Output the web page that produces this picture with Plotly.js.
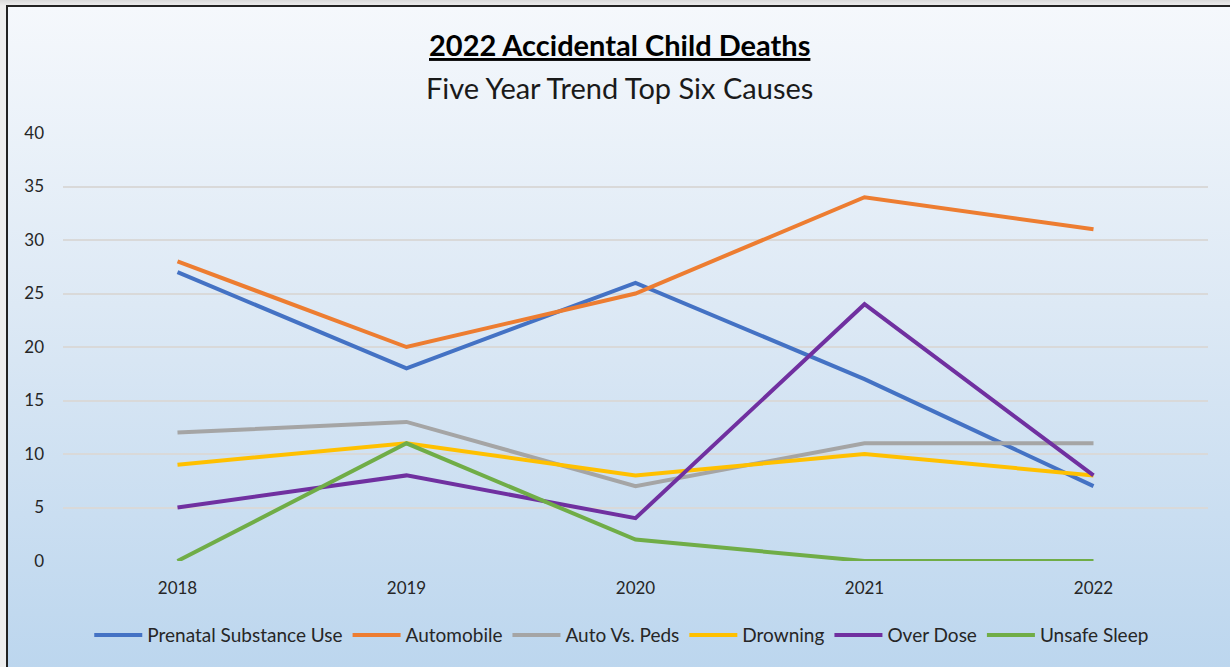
<!DOCTYPE html>
<html>
<head>
<meta charset="utf-8">
<script src="https://cdn.plot.ly/plotly-3.0.1.min.js"></script>
<style>
  html, body { margin: 0; padding: 0; width: 1230px; height: 667px; overflow: hidden;
    background: linear-gradient(#dadada, #eeeeee 6px); }
  #box { position: absolute; left: 6px; top: 5px; width: 1224px; height: 662px;
    border-top: 2px solid #222; border-left: 2px solid #222;
    background: linear-gradient(#f5f8fc 0%, #dde9f5 45%, #bcd6ee 100%); }
  #chart { position: absolute; left: 0; top: 0; width: 1230px; height: 667px; }
</style>
</head>
<body>
<div id="box"></div>
<div id="chart"></div>
<script>
const years = ['2018', '2019', '2020', '2021', '2022'];
const seriesNames = ['Prenatal Substance Use', 'Automobile', 'Auto Vs. Peds', 'Drowning', 'Over Dose', 'Unsafe Sleep'];
const prenatal = [27, 18, 26, 17, 7];
const automobile = [28, 20, 25, 34, 31];
const autoVsPeds = [12, 13, 7, 11, 11];
const drowning = [9, 11, 8, 10, 8];
const overDose = [5, 8, 4, 24, 8];
const unsafeSleep = [0, 11, 2, 0, 0];
const yTicks = [0, 5, 10, 15, 20, 25, 30, 35, 40];

const colors = ['#4472C4', '#ED7D31', '#A5A5A5', '#FFC000', '#7030A0', '#70AD47'];
const values = [prenatal, automobile, autoVsPeds, drowning, overDose, unsafeSleep];
const FONT = 'Lato, "Open Sans", sans-serif';

const traces = values.map((v, i) => ({
  type: 'scatter', mode: 'lines', x: years, y: v, name: seriesNames[i],
  line: { color: colors[i], width: 4 }, hoverinfo: 'x+y+name'
}));

const layout = {
  width: 1230, height: 667,
  paper_bgcolor: 'rgba(0,0,0,0)', plot_bgcolor: 'rgba(0,0,0,0)',
  margin: { l: 63, r: 22, t: 133, b: 106 },
  font: { family: FONT, color: '#404040' },
  showlegend: true,
  legend: { orientation: 'h', x: 0.488, xanchor: 'center', y: -0.173, yanchor: 'middle',
    font: { family: FONT, size: 19, color: '#262626' }, itemwidth: 48, bgcolor: 'rgba(0,0,0,0)',
    tracegroupgap: 0 },
  xaxis: { type: 'category', range: [-0.5, 4.5], showgrid: false, zeroline: false, showline: false,
    ticks: '', tickfont: { family: FONT, size: 17, color: '#262626' }, ticklabelstandoff: 15 },
  yaxis: { range: [0, 40], tickvals: yTicks, showgrid: true, gridcolor: '#d9d9d9', gridwidth: 1.5,
    zeroline: false, showline: false, ticks: '',
    tickfont: { family: FONT, size: 17, color: '#262626' }, ticklabelstandoff: 18 },
  annotations: [
    { text: '<b><u>2022 Accidental Child Deaths</u></b>', xref: 'paper', yref: 'paper',
      x: 0.486, y: (561 - 45) / 428, xanchor: 'center', yanchor: 'middle', showarrow: false,
      font: { family: FONT, size: 29, color: '#000000' } },
    { text: 'Five Year Trend Top Six Causes', xref: 'paper', yref: 'paper',
      x: 0.486, y: (561 - 87) / 428, xanchor: 'center', yanchor: 'middle', showarrow: false,
      font: { family: FONT, size: 29, color: '#1a1a1a' } }
  ]
};

Plotly.newPlot('chart', traces, layout, { displayModeBar: false, responsive: false });
</script>
</body>
</html>
